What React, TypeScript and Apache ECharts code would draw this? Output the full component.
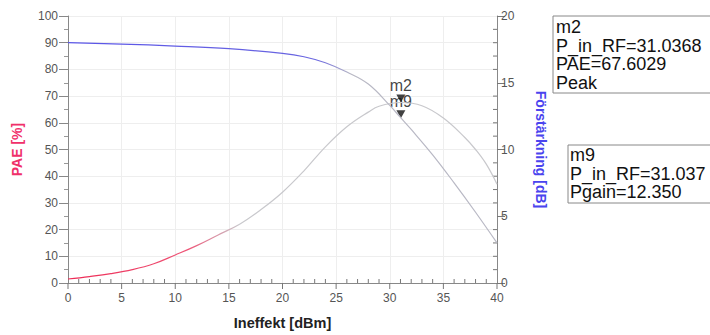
import React, { useEffect, useRef } from "react";
import * as echarts from "echarts";

const pinDbm = [0, 2, 4, 6, 8, 10, 12, 14, 16, 18, 20, 22, 24, 26, 28, 29, 31, 33, 35, 37, 38, 39, 40];
const paePct = [1.5, 2.4, 3.5, 5.0, 7.2, 10.5, 14, 18, 22, 27.5, 34, 42, 51, 58.5, 64, 66.2, 67.6, 66.4, 61.8, 54.5, 50, 44.5, 37];

const gainPin = [0, 5, 10, 15, 20, 22, 24, 26, 28, 30, 31, 32, 34, 36, 38, 40];
const gainDb = [18.0, 17.9, 17.75, 17.55, 17.2, 16.95, 16.5, 15.8, 14.9, 13.3, 12.4, 11.5, 9.6, 7.5, 5.3, 3.0];

const xTickValues = [0, 1, 2, 3, 4, 5, 6, 7, 8, 9, 10, 11, 12, 13, 14, 15, 16, 17, 18, 19, 20, 21, 22, 23, 24, 25, 26, 27, 28, 29, 30, 31, 32, 33, 34, 35, 36, 37, 38, 39, 40];
const gainTickValues = [0, 1, 2, 3, 4, 5, 6, 7, 8, 9, 10, 11, 12, 13, 14, 15, 16, 17, 18, 19, 20];

const m2 = { name: "m2", x: 31.0368, y: 67.6029 };
const m9 = { name: "m9", x: 31.037, y: 12.35 };
const m2Lines = ["m2", "P_in_RF=31.0368", "PAE=67.6029", "Peak"];
const m9Lines = ["m9", "P_in_RF=31.037", "Pgain=12.350"];

export default function App() {
  const ref = useRef<HTMLDivElement>(null);
  useEffect(() => {
    if (!ref.current) return;
    const chart = echarts.init(ref.current, null, { renderer: "svg" });
    const font = "Arial, 'Liberation Sans', sans-serif";
    const tickLabel = { color: "#555", fontSize: 12, fontFamily: font };
    chart.setOption({
      animation: false,
      backgroundColor: "#fff",
      grid: { left: 68, right: 213, top: 16, bottom: 48, show: false },
      xAxis: {
        type: "value", min: 0, max: 40, interval: 5,
        name: "Ineffekt [dBm]", nameLocation: "middle", nameGap: 32,
        nameTextStyle: { color: "#222", fontSize: 14.5, fontWeight: "bold", fontFamily: font },
        axisLine: { lineStyle: { color: "#888" } },
        axisTick: { show: false },
        axisLabel: { ...tickLabel, margin: 9 },
        splitLine: { show: true, lineStyle: { color: "#eee" } },
      },
      yAxis: [
        {
          type: "value", min: 0, max: 100, interval: 10, position: "left",
          name: "PAE [%]", nameLocation: "middle", nameGap: 44,
          nameTextStyle: { color: "#f0306a", fontSize: 14, fontWeight: "bold", fontFamily: font },
          axisLine: { show: true, lineStyle: { color: "#888" } },
          axisTick: { show: true, length: 9, lineStyle: { color: "#888" } },
          minorTick: { show: true, splitNumber: 2, length: 4, lineStyle: { color: "#999" } },
          axisLabel: { ...tickLabel, margin: 10 },
          splitLine: { show: true, lineStyle: { color: "#eee" } },
        },
        {
          type: "value", min: 0, max: 20, interval: 5, position: "right",
          name: "Förstärkning [dB]", nameLocation: "middle", nameGap: 37, nameRotate: -90,
          nameTextStyle: { color: "#4a44ee", fontSize: 14, fontWeight: "bold", fontFamily: font },
          axisLine: { show: true, lineStyle: { color: "#888" } },
          axisTick: { show: true, length: 8, lineStyle: { color: "#777", width: 1 } },
          axisLabel: { ...tickLabel, margin: 4 },
          splitLine: { show: false },
        },
      ],
      series: [
        {
          type: "line", yAxisIndex: 0, smooth: 0.4, showSymbol: false,
          data: pinDbm.map((x, i) => [x, paePct[i]]),
          lineStyle: {
            width: 1.2,
            color: new echarts.graphic.LinearGradient(0, 0, 1, 0, [
              { offset: 0, color: "#ee2a55" },
              { offset: 0.28, color: "#ee5577" },
              { offset: 0.4, color: "#c8c8cc" },
              { offset: 1, color: "#c8c8cc" },
            ]),
          },
        },
        {
          type: "line", yAxisIndex: 1, smooth: 0.4, showSymbol: false,
          data: gainPin.map((x, i) => [x, gainDb[i]]),
          lineStyle: {
            width: 1.2,
            color: new echarts.graphic.LinearGradient(0, 0, 1, 0, [
              { offset: 0, color: "#5a55e8" },
              { offset: 0.58, color: "#6a66e0" },
              { offset: 0.66, color: "#b8b8c4" },
              { offset: 1, color: "#b8b8c4" },
            ]),
          },
        },
        {
          type: "custom", yAxisIndex: 0, clip: false, silent: true,
          data: xTickValues.map((v) => [v, 0]),
          renderItem: (params: any, api: any) => {
            const v = api.value(0);
            const p = api.coord([v, api.value(1)]);
            const major = v % 5 === 0;
            return {
              type: "line",
              shape: { x1: p[0], y1: p[1], x2: p[0], y2: major ? p[1] + 6 : p[1] - 4 },
              style: { stroke: "#777", lineWidth: 1 },
            };
          },
        },
        {
          type: "custom", yAxisIndex: 1, clip: false, silent: true,
          data: gainTickValues.filter((v) => v % 5 !== 0).map((v) => [40, v]),
          renderItem: (params: any, api: any) => {
            const p = api.coord([api.value(0), api.value(1)]);
            return {
              type: "line",
              shape: { x1: p[0], y1: p[1], x2: p[0] - 4, y2: p[1] },
              style: { stroke: "#777", lineWidth: 1 },
            };
          },
        },
        {
          type: "scatter", yAxisIndex: 0,
          symbol: "triangle", symbolRotate: 180, symbolSize: [9, 8], symbolOffset: [0, -4],
          itemStyle: { color: "#111" },
          label: { show: true, position: "top", distance: 1, formatter: m2.name, color: "#111", fontSize: 16, fontFamily: font },
          data: [[m2.x, m2.y]],
        },
        {
          type: "scatter", yAxisIndex: 1,
          symbol: "triangle", symbolRotate: 180, symbolSize: [9, 8], symbolOffset: [0, -4],
          itemStyle: { color: "#111" },
          label: { show: true, position: "top", distance: 1, formatter: m9.name, color: "#111", fontSize: 16, fontFamily: font },
          data: [[m9.x, m9.y]],
        },
      ],
      graphic: [
        { type: "line", silent: true, z: -1, shape: { x1: 68, y1: 16.5, x2: 497, y2: 16.5 }, style: { stroke: "#999", lineWidth: 1 } },
        { type: "rect", shape: { x: 553, y: 16, width: 200, height: 77 }, style: { fill: "#fff", stroke: "#888", lineWidth: 1 } },
        {
          type: "text", x: 556, y: 18,
          style: { text: m2Lines.join("\n"), fontSize: 18, lineHeight: 18.5, fontFamily: font, fill: "#111" },
        },
        { type: "rect", shape: { x: 568, y: 145, width: 200, height: 58 }, style: { fill: "#fff", stroke: "#888", lineWidth: 1 } },
        {
          type: "text", x: 570, y: 146,
          style: { text: m9Lines.join("\n"), fontSize: 18, lineHeight: 18.5, fontFamily: font, fill: "#111" },
        },
      ],
    });
    return () => chart.dispose();
  }, []);
  return <div ref={ref} style={{ position: "fixed", left: 0, top: 0, width: 710, height: 335 }} />;
}
